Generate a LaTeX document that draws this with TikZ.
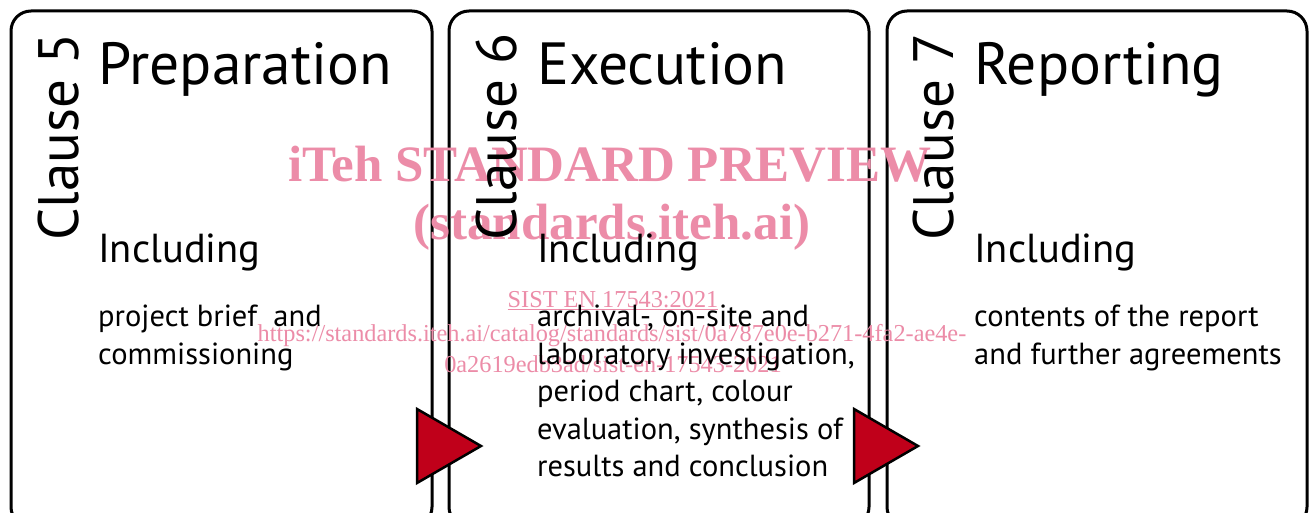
\documentclass[tikz,border=0pt]{standalone}
\usepackage{fontspec}
\setmainfont{PT Sans}
\newfontfamily\wmfont{Liberation Serif}
\usetikzlibrary{positioning}
\definecolor{arrowred}{RGB}{192,0,26}
\definecolor{wmpink}{RGB}{236,140,168}
\tikzset{
  stage/.style={draw=black, line width=3pt, rounded corners=20pt},
  titletext/.style={anchor=base west, inner sep=0pt, font=\fontsize{59.5}{59.5}\selectfont},
  clausetext/.style={anchor=base west, inner sep=0pt, rotate=90, font=\fontsize{57}{57}\selectfont},
  inctext/.style={anchor=base west, inner sep=0pt, font=\fontsize{40.5}{40.5}\selectfont},
  bodytext/.style={anchor=north west, inner sep=0pt, align=left, font=\fontsize{30.5}{37.5}\selectfont},
  flowarrow/.style={draw=black, line width=2.5pt, fill=arrowred, line join=miter},
  wmbig/.style={text=wmpink, inner sep=0pt, anchor=base, font=\wmfont\bfseries\fontsize{51}{51}\selectfont},
  wmsmall/.style={text=wmpink, inner sep=0pt, anchor=base, font=\wmfont\fontsize{24.3}{24.3}\selectfont}
}
\begin{document}
\begin{tikzpicture}[x=1pt, y=-1pt]
\useasboundingbox (0,0) rectangle (1312,513);
\clip (0,0) rectangle (1312,513);
\fill[white] (0,0) rectangle (1312,513);

% stage frames
\draw[stage] (11,11) rectangle (432,527);
\draw[stage] (449,11) rectangle (869,527);
\draw[stage] (887,11) rectangle (1307,527);

% overprinted preview marks
\node[wmbig] (wm1) at (610,182) {iTeh STANDARD PREVIEW};
\node[wmbig] (wm2) at (612,240) {(standards.iteh.ai)};
\node[wmsmall] (wm3) at (613,307) {\underline{SIST EN 17543:2021}};
\node[wmsmall] (wm4) at (612,341) {https://standards.iteh.ai/catalog/standards/sist/0a787e0e-b271-4fa2-ae4e-};
\node[wmsmall] (wm5) at (613,372) {0a2619edb3ad/sist-en-17543-2021};

% clause 5
\node[clausetext] (c5) at (78,241) {Clause 5};
\node[titletext] (t5) at (98,85) {Preparation};
\node[inctext] (i5) at (98,262) {Including};
\node[bodytext] (b5) at (98,305) {project brief\ \ and\\commissioning};

% clause 6
\node[clausetext] (c6) at (516,241) {Clause 6};
\node[titletext] (t6) at (537,85) {Execution};
\node[inctext] (i6) at (537,262) {Including};
\node[bodytext] (b6) at (537,305) {archival-, on-site and\\laboratory investigation,\\period chart, colour\\evaluation, synthesis of\\results and conclusion};

% clause 7
\node[clausetext] (c7) at (953,241) {Clause 7};
\node[titletext] (t7) at (974,85) {Reporting};
\node[inctext] (i7) at (974,262) {Including};
\node[bodytext] (b7) at (974,305) {contents of the report\\and further agreements};

% flow arrows between the stages
\coordinate (a1) at (417,409);
\coordinate (a2) at (854,409);
\draw[flowarrow] (a1) -- ++(64,37) -- ++(-64,37) -- cycle;
\draw[flowarrow] (a2) -- ++(64,37) -- ++(-64,37) -- cycle;
\end{tikzpicture}
\end{document}
